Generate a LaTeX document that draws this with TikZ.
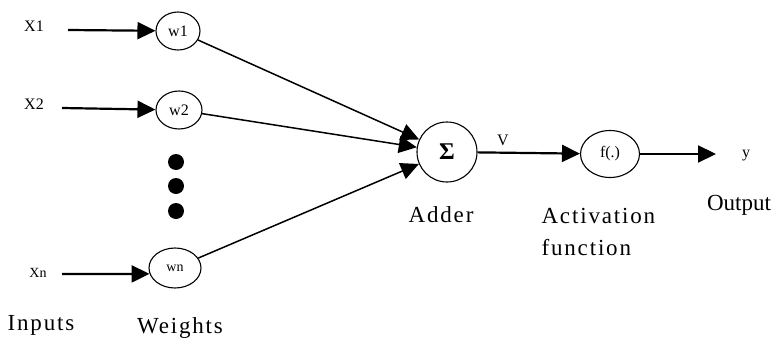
\documentclass[tikz,border=0pt]{standalone}
\usepackage{fontspec}
\setmainfont{Liberation Serif}
\newfontfamily\widefont[LetterSpace=8]{Liberation Serif}
\usetikzlibrary{arrows.meta,shapes.geometric}
\tikzset{
  weight/.style={ellipse,draw,line width=1.1pt,inner sep=0pt,font=\fontsize{16}{18}\selectfont},
  caption/.style={anchor=base,font=\widefont\fontsize{23}{32}\selectfont},
  feed/.style={line width=2.2pt,-{Triangle[length=18pt,width=17pt]}},
  link/.style={line width=1.5pt,-{Triangle[length=18pt,width=17pt]}},
}
\begin{document}
\begin{tikzpicture}[x=1pt,y=-1pt]
\useasboundingbox (0,0) rectangle (778,340);
% inputs
\node[font=\fontsize{16}{18}\selectfont] (x1) at (34,26) {X1};
\node[font=\fontsize{16}{18}\selectfont] (x2) at (34,104) {X2};
\node[font=\fontsize{14}{16}\selectfont] (xn) at (38,273) {Xn};
\coordinate (s1) at (68,30);
\coordinate (s2) at (62,108);
\coordinate (sn) at (62,274);
% weights
\node[weight,minimum width=44pt,minimum height=38pt] (w1) at (178,31) {w1};
\node[weight,minimum width=46pt,minimum height=38pt] (w2) at (179,110) {w2};
\node[weight,minimum width=52pt,minimum height=40pt,font=\fontsize{14}{16}\selectfont] (wn) at (175,268) {wn};
\foreach \yy in {162,186,211}
  \fill (176,\yy) circle (8pt);
\draw[feed] (s1) -- (w1);
\draw[feed] (s2) -- (w2);
\draw[feed] (sn) -- (wn.193);
% adder and activation
\node[circle,draw,line width=1.1pt,minimum size=60pt,inner sep=0pt,font=\bfseries\fontsize{24}{26}\selectfont] (sum) at (447,152) {Σ};
\node[weight,minimum width=59pt,minimum height=47pt] (act) at (610,154) {f(.)};
\coordinate (yout) at (716,154);
\node[font=\fontsize{16}{18}\selectfont] (y) at (746,156) {y};
\draw[link] (w1) -- (sum);
\draw[link] (w2) -- (sum);
\draw[link] (wn) -- (sum);
\draw[feed] (sum) -- (act);
\node[font=\fontsize{16}{18}\selectfont] (v) at (503,140) {V};
\draw[feed] (act) -- (yout);
% captions
\node[caption] (inputs) at (41,330) {Inputs};
\node[caption] (weights) at (180,333) {Weights};
\node[caption] (adder) at (441,222) {Adder};
\node[caption,anchor=base west,align=left] (activation) at (538,255) {Activation\\function};
\node[caption,font=\fontsize{23}{28}\selectfont] (output) at (739,210) {Output};
\end{tikzpicture}
\end{document}
